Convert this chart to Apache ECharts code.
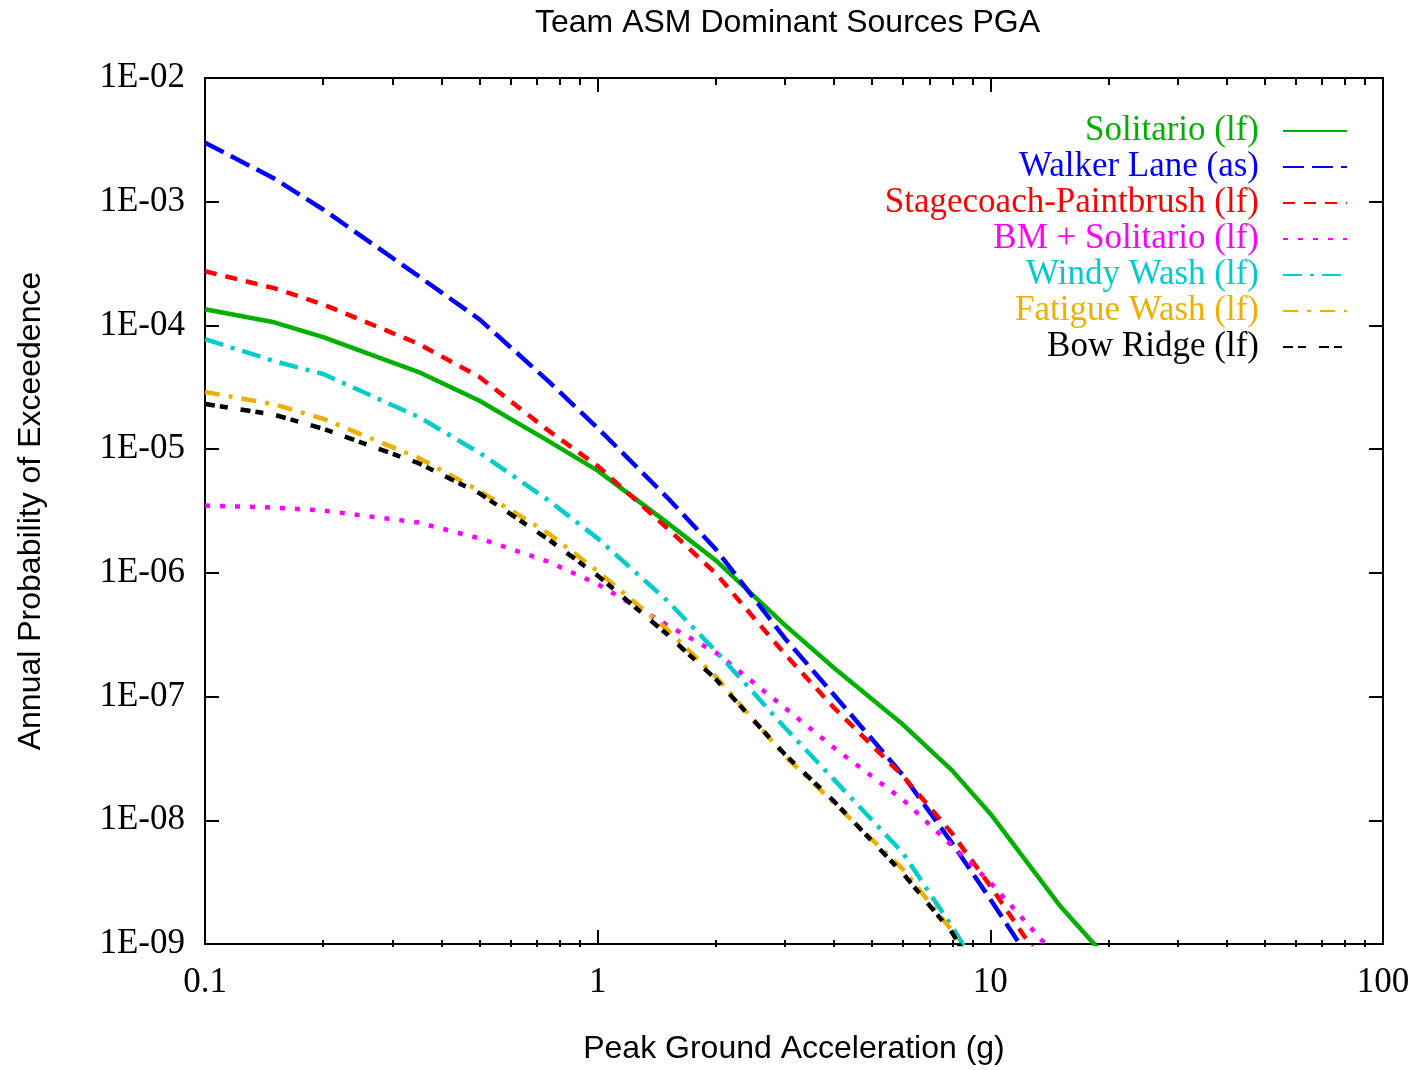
<!DOCTYPE html>
<html><head><meta charset="utf-8">
<script src="https://cdn.jsdelivr.net/npm/echarts@6/dist/echarts.min.js"></script>
<style>html,body{margin:0;padding:0;background:#fff}#c{width:1416px;height:1070px}</style>
</head><body><div id="c"></div>
<script>
// ---- data ----
const seriesNames = ['Solitario (lf)', 'Walker Lane (as)', 'Stagecoach-Paintbrush (lf)', 'BM + Solitario (lf)', 'Windy Wash (lf)', 'Fatigue Wash (lf)', 'Bow Ridge (lf)'];
const seriesColors = ['#00b000', '#0000ff', '#ff0000', '#ff00ff', '#00cccc', '#eeb000', '#000000'];

const xSolitario = [0.1, 0.15, 0.2, 0.35, 0.5, 0.75, 1, 1.5, 2, 3, 4, 6, 8, 10, 15, 20];
const ySolitario = [1.35e-4, 1.06e-4, 8.05e-5, 4.2e-5, 2.46e-5, 1.16e-5, 6.7e-6, 2.56e-6, 1.26e-6, 3.78e-7, 1.7e-7, 5.91e-8, 2.52e-8, 1.13e-8, 2.06e-9, 7.4e-10];

const xWalker = [0.1, 0.15, 0.2, 0.35, 0.5, 0.75, 1, 1.5, 2, 3, 4, 6, 8, 10, 12, 13];
const yWalker = [3.0e-3, 1.54e-3, 8.65e-4, 2.5e-4, 1.12e-4, 3.53e-5, 1.48e-5, 4.1e-6, 1.55e-6, 2.95e-7, 1.03e-7, 2.3e-8, 6.5e-9, 2.3e-9, 9.5e-10, 6.0e-10];

const xStage = [0.1, 0.15, 0.2, 0.35, 0.5, 0.75, 1, 1.5, 2, 3, 4, 6, 8, 10, 12, 13];
const yStage = [2.74e-4, 2.0e-4, 1.48e-4, 7.1e-5, 3.83e-5, 1.41e-5, 7.3e-6, 2.31e-6, 9.9e-7, 2.2e-7, 8.1e-8, 2.27e-8, 7.8e-9, 2.95e-9, 1.25e-9, 8.7e-10];

const xBM = [0.1, 0.15, 0.2, 0.35, 0.5, 0.75, 1, 1.5, 2, 3, 4, 6, 8, 10, 14];
const yBM = [3.5e-6, 3.37e-6, 3.19e-6, 2.55e-6, 1.9e-6, 1.23e-6, 8.1e-7, 3.8e-7, 2.27e-7, 8.1e-8, 3.85e-8, 1.46e-8, 6.2e-9, 3.15e-9, 9.5e-10];

const xWindy = [0.1, 0.15, 0.2, 0.35, 0.5, 0.75, 1, 1.5, 2, 3, 4, 6, 8, 9];
const yWindy = [7.74e-5, 5.15e-5, 4.05e-5, 1.82e-5, 9.35e-6, 3.85e-6, 1.9e-6, 6.0e-7, 2.33e-7, 5.6e-8, 2.13e-8, 5.4e-9, 1.37e-9, 7.4e-10];

const xFatigue = [0.1, 0.15, 0.2, 0.35, 0.5, 0.75, 1, 1.5, 2, 3, 4, 6, 8, 9];
const yFatigue = [2.9e-5, 2.3e-5, 1.76e-5, 8.5e-6, 4.6e-6, 2.08e-6, 1.03e-6, 3.5e-7, 1.45e-7, 3.3e-8, 1.38e-8, 4.0e-9, 1.27e-9, 6.5e-10];

const xBow = [0.1, 0.15, 0.2, 0.35, 0.5, 0.75, 1, 1.5, 2, 3, 4, 6, 8, 9];
const yBow = [2.32e-5, 1.9e-5, 1.46e-5, 7.7e-6, 4.4e-6, 1.86e-6, 9.5e-7, 3.2e-7, 1.38e-7, 3.4e-8, 1.42e-8, 3.7e-9, 1.23e-9, 6.5e-10];

const xTickLabels = ['0.1', '1', '10', '100'];
const yTickLabels = ['1E-09', '1E-08', '1E-07', '1E-06', '1E-05', '1E-04', '1E-03', '1E-02'];
const xMinorTicks = [0.2, 0.3, 0.4, 0.5, 0.6, 0.7, 0.8, 0.9, 2, 3, 4, 5, 6, 7, 8, 9, 20, 30, 40, 50, 60, 70, 80, 90];

// ---- styles ----
const dashes = [
  'solid',
  [21, 8],
  [12, 9],
  [5, 10],
  [19, 8, 4, 8],
  [15, 9, 4, 9],
  [10, 5, 8, 13]
];
const seriesX = [xSolitario, xWalker, xStage, xBM, xWindy, xFatigue, xBow];
const seriesY = [ySolitario, yWalker, yStage, yBM, yWindy, yFatigue, yBow];

const serif = 'Liberation Serif';
const sans = 'Liberation Sans';
const black = '#000';
const rect = { left: 205, right: 33, top: 78, bottom: 123 };

function xFmt(v) { const i = Math.round(Math.log10(v)) + 1; return xTickLabels[i] || ''; }
function yFmt(v) { const i = Math.round(Math.log10(v)) + 9; return yTickLabels[i] || ''; }

const axLine = { show: true, lineStyle: { color: black, width: 2 } };
const majTick = { show: true, inside: true, length: 14, lineStyle: { color: black, width: 2 } };

const series = seriesNames.map((name, k) => ({
  name: name,
  type: 'line',
  xAxisIndex: 0,
  yAxisIndex: 0,
  data: seriesX[k].map((x, i) => [x, seriesY[k][i]]),
  symbol: 'none',
  showSymbol: false,
  clip: true,
  animation: false,
  lineStyle: { color: seriesColors[k], width: 4.5, type: dashes[k], cap: 'butt', join: 'round' },
  itemStyle: { color: seriesColors[k] },
  emphasis: { disabled: true }
}));

const option = {
  backgroundColor: '#fff',
  animation: false,
  title: {
    text: 'Team ASM Dominant Sources PGA',
    left: 535, top: 7, padding: 0,
    textStyle: { fontFamily: sans, fontSize: 32, fontWeight: 'normal', color: black }
  },
  legend: {
    orient: 'vertical', align: 'right', right: 68, top: 113, padding: 0,
    itemGap: 0, itemWidth: 64, itemHeight: 14, selectedMode: false,
    itemStyle: { opacity: 0 },
    textStyle: { fontFamily: serif, fontSize: 35, lineHeight: 36, padding: [0, 19, 0, 0] },
    data: seriesNames.map((n, k) => ({ name: n, textStyle: { color: seriesColors[k] } }))
  },
  grid: [
    Object.assign({ containLabel: false }, rect),
    Object.assign({ containLabel: false }, rect)
  ],
  xAxis: [
    {
      type: 'log', logBase: 10, min: 0.1, max: 100, gridIndex: 0, position: 'bottom',
      axisLine: axLine, axisTick: majTick, splitLine: { show: false }, minorTick: { show: false },
      axisLabel: { formatter: xFmt, fontFamily: serif, fontSize: 35, color: black, margin: 21 },
      name: 'Peak Ground Acceleration (g)', nameLocation: 'middle', nameGap: 89,
      nameTextStyle: { fontFamily: sans, fontSize: 32, color: black }
    },
    {
      type: 'log', logBase: 10, min: 0.1, max: 100, gridIndex: 0, position: 'top',
      axisLine: axLine, axisTick: majTick, splitLine: { show: false },
      axisLabel: { show: false }
    },
    {
      type: 'log', logBase: 10, min: 0.1, max: 100, gridIndex: 1, position: 'bottom',
      axisLine: { show: false }, splitLine: { show: false },
      axisTick: { show: true, inside: true, length: 7, customValues: xMinorTicks, lineStyle: { color: black, width: 2 } },
      axisLabel: { show: false }
    },
    {
      type: 'log', logBase: 10, min: 0.1, max: 100, gridIndex: 1, position: 'top',
      axisLine: { show: false }, splitLine: { show: false },
      axisTick: { show: true, inside: true, length: 7, customValues: xMinorTicks, lineStyle: { color: black, width: 2 } },
      axisLabel: { show: false }
    }
  ],
  yAxis: [
    {
      type: 'log', logBase: 10, min: 1e-9, max: 1e-2, gridIndex: 0, position: 'left', splitNumber: 7,
      axisLine: axLine, axisTick: majTick, splitLine: { show: false },
      axisLabel: { formatter: yFmt, fontFamily: serif, fontSize: 35, color: black, margin: 20 },
      name: 'Annual Probability of Exceedence', nameLocation: 'middle', nameGap: 158,
      nameTextStyle: { fontFamily: sans, fontSize: 32, color: black }
    },
    {
      type: 'log', logBase: 10, min: 1e-9, max: 1e-2, gridIndex: 0, position: 'right', splitNumber: 7,
      axisLine: axLine, axisTick: majTick, splitLine: { show: false },
      axisLabel: { show: false }
    },
    {
      type: 'log', logBase: 10, min: 1e-9, max: 1e-2, gridIndex: 1, show: false
    }
  ],
  series: series
};

const chart = echarts.init(document.getElementById('c'), null, { renderer: 'canvas' });
chart.setOption(option);
</script>
</body></html>
